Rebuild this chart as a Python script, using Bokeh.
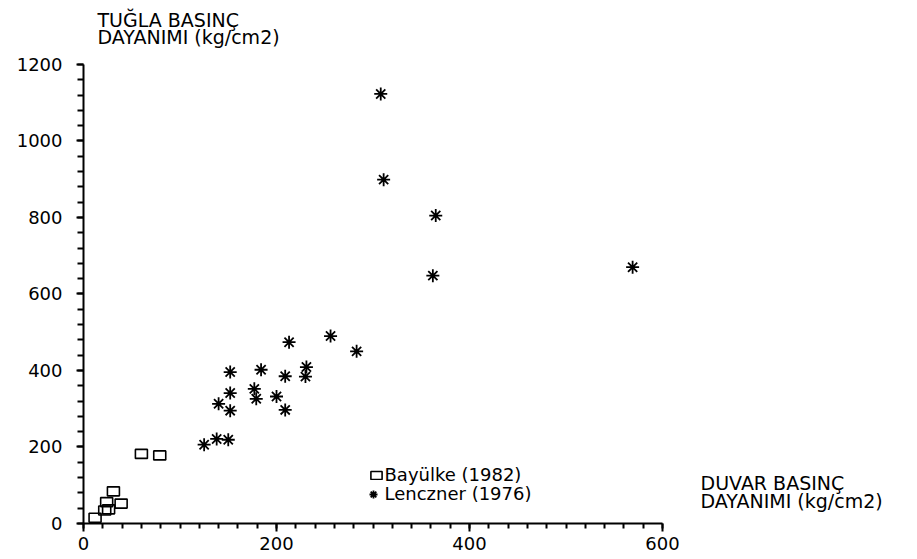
from bokeh.plotting import figure
from bokeh.models import Range1d, SingleIntervalTicker, Legend, LegendItem, Label
from bokeh.embed import file_html
from bokeh.resources import INLINE

# Bayülke (1982): wall strength (x) vs brick strength (y), kg/cm2
bayulke_x = [12, 22, 26, 24, 31, 39, 60, 79]
bayulke_y = [15, 34, 37, 56, 84, 52, 182, 178]

# Lenczner (1976)
lenczner_x = [213, 152, 184, 209, 152, 177, 179, 200, 140, 152, 209, 125, 138, 150,
              256, 283, 231, 230, 308, 311, 365, 362, 569]
lenczner_y = [474, 396, 402, 385, 341, 352, 326, 332, 313, 295, 297, 206, 221, 219,
              490, 450, 409, 384, 1123, 899, 805, 648, 670]

x_title = ["DUVAR BASINÇ", "DAYANIMI (kg/cm2)"]
y_title = ["TUĞLA BASINÇ", "DAYANIMI (kg/cm2)"]
legend_labels = ["Bayülke (1982)", "Lenczner (1976)"]

FONT = "DejaVu Sans"

# the frame spans the whole canvas right/top of the axes; axes are bounded to the data span
p = figure(width=917, height=559, output_backend="svg", toolbar_location=None,
           x_range=Range1d(0, 864.2), y_range=Range1d(0, 1367.3),
           min_border_left=83, min_border_right=0, min_border_top=0,
           min_border_bottom=36)
p.outline_line_color = None
p.xgrid.visible = False
p.ygrid.visible = False
p.background_fill_color = "white"
p.border_fill_color = "white"

p.xaxis.ticker = SingleIntervalTicker(interval=200, num_minor_ticks=10)
p.yaxis.ticker = SingleIntervalTicker(interval=200, num_minor_ticks=5)
p.xaxis.bounds = (0, 600)
p.yaxis.bounds = (0, 1200)
for ax in (p.xaxis, p.yaxis):
    ax.axis_line_width = 2
    ax.axis_line_color = "black"
    ax.major_tick_line_color = "black"
    ax.minor_tick_line_color = "black"
    ax.major_tick_line_width = 2
    ax.minor_tick_line_width = 2
    ax.major_label_text_font = FONT
    ax.major_label_text_font_size = "18px"
    ax.major_label_text_color = "black"
p.xaxis.major_tick_out = 8
p.xaxis.major_tick_in = 0
p.xaxis.minor_tick_out = 5
p.xaxis.minor_tick_in = 0
p.xaxis.major_label_standoff = 5
p.yaxis.major_tick_out = 7
p.yaxis.major_tick_in = 0
p.yaxis.minor_tick_out = 6
p.yaxis.minor_tick_in = 0
p.yaxis.major_label_standoff = 14

r1 = p.rect(bayulke_x, bayulke_y, width=12, height=9, width_units="screen",
            height_units="screen", fill_color=None, line_color="black", line_width=1.6)
r2 = p.scatter(lenczner_x, lenczner_y, marker="asterisk", size=13,
               line_color="black", line_width=1.8)

common = dict(background_fill_alpha=0, border_line_alpha=0, label_text_font=FONT,
              label_text_font_size="18px", label_text_color="black",
              label_standoff=2, spacing=0, padding=0, margin=0, label_height=16)
leg1 = Legend(items=[LegendItem(label=legend_labels[0], renderers=[r1])],
              location=(285.5, 38), glyph_width=14, glyph_height=10, **common)
leg2 = Legend(items=[LegendItem(label=legend_labels[1], renderers=[r2])],
              location=(279.5, 19), glyph_width=20, glyph_height=20, **common)
p.add_layout(leg1)
p.add_layout(leg2)

# axis titles
for i, t in enumerate(y_title):
    p.add_layout(Label(x=14.5, y=[1317.0, 1272.4][i], text=t, text_font=FONT,
                       text_font_size="19px", text_color="black",
                       text_baseline="alphabetic"))
for i, t in enumerate(x_title):
    p.add_layout(Label(x=639.4, y=[106.6, 60.1][i], text=t, text_font=FONT,
                       text_font_size="19px", text_color="black",
                       text_baseline="alphabetic"))

open("out.html", "w").write(file_html(p, INLINE))
